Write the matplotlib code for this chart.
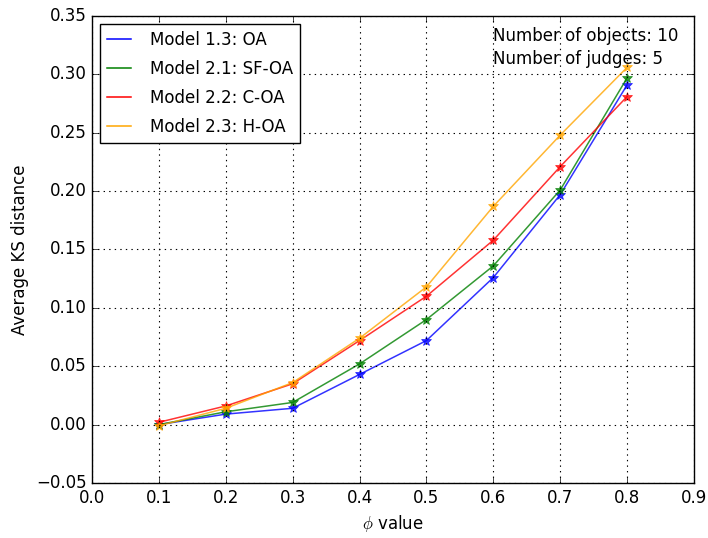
import matplotlib
matplotlib.use('Agg')
import matplotlib.pyplot as plt

plt.style.use('classic')

phi = [0.1, 0.2, 0.3, 0.4, 0.5, 0.6, 0.7, 0.8]
oa = [0.000, 0.009, 0.014, 0.043, 0.072, 0.126, 0.197, 0.291]
sf_oa = [0.000, 0.011, 0.019, 0.052, 0.090, 0.136, 0.201, 0.297]
c_oa = [0.002, 0.016, 0.035, 0.072, 0.110, 0.158, 0.221, 0.281]
h_oa = [-0.001, 0.014, 0.036, 0.074, 0.118, 0.187, 0.248, 0.306]

labels = ['Model 1.3: OA', 'Model 2.1: SF-OA', 'Model 2.2: C-OA', 'Model 2.3: H-OA']
colors = ['b', 'g', 'r', 'orange']

fig = plt.figure(figsize=(7.08, 5.38), dpi=100, facecolor='white')
ax = fig.add_axes([92 / 708, 1 - 483 / 538, (694 - 92) / 708, (483 - 16) / 538])

for ys, lab, c in zip([oa, sf_oa, c_oa, h_oa], labels, colors):
    ax.plot(phi, ys, color=c, marker='*', markersize=7, markeredgecolor=c,
            lw=1.1, alpha=0.8, label=lab)

ax.set_xlim(0.0, 0.9)
ax.set_ylim(-0.05, 0.35)
ax.grid(True, color='k', ls=':', lw=0.8)
ax.set_xlabel(r'$\phi$ value', fontsize=12)
ax.set_ylabel('Average KS distance', fontsize=12)
ax.tick_params(labelsize=12)
ax.text(0.6, 0.341, 'Number of objects: 10\nNumber of judges: 5', fontsize=12,
        va='top', ha='left', linespacing=1.4)
leg = ax.legend(loc='upper left', fontsize=12, numpoints=1, markerscale=0,
                handlelength=1.45, handletextpad=1.1, labelspacing=0.65,
                borderpad=0.45, borderaxespad=0.45)
for h in leg.get_lines():
    h.set_marker('')
    h.set_alpha(1)

fig.savefig('out.png', dpi=100, facecolor='white')
